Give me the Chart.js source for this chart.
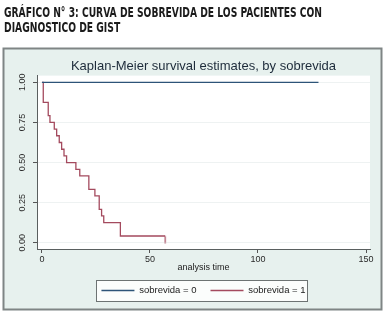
<!DOCTYPE html>
<html>
<head>
<meta charset="utf-8">
<script src="https://cdn.jsdelivr.net/npm/chart.js@4/dist/chart.umd.min.js"></script>
<style>
  html, body { margin: 0; padding: 0; background: #fff; }
  #wrap { position: relative; width: 389px; height: 315px; overflow: hidden; }
  #km { position: absolute; left: 0; top: 0; }
  #heading {
    position: absolute; left: 4px; top: 4.7px;
    font-family: "Liberation Sans Narrow", "DejaVu Sans Condensed", sans-serif;
    font-weight: bold; font-size: 14px; line-height: 15.4px; color: #1b1b1b;
    white-space: nowrap; transform-origin: 0 0;
  }
</style>
</head>
<body>
<div id="wrap">
  <canvas id="km" width="389" height="315"></canvas>
  <div id="heading"><span id="h1">GRÁFICO N° 3: CURVA DE SOBREVIDA DE LOS PACIENTES CON</span><br>DIAGNOSTICO DE GIST</div>
</div>
<script>
// Kaplan-Meier estimates
const timesGroup0 = [0, 128];
const survGroup0 = [1, 1];
const timesGroup1 = [0, 0.6, 2.9, 3.7, 5.7, 6.8, 8, 9.1, 10.2, 11.4, 15.7, 17.5, 21.7, 24.5, 26.5, 27.6, 28.6, 36.3, 57];
const survGroup1 = [1, 0.875, 0.792, 0.75, 0.708, 0.667, 0.625, 0.583, 0.542, 0.5, 0.458, 0.417, 0.333, 0.292, 0.208, 0.167, 0.125, 0.042, 0.042];
const seriesLabels = ["sobrevida = 0", "sobrevida = 1"];
const xTicks = [0, 50, 100, 150];
const yTicks = [0, 0.25, 0.5, 0.75, 1];

const BLUE = "#2d5478";
const RED = "#a44a5e";
const FONT = "Liberation Sans, Arial, sans-serif";

// squeeze the condensed heading to the width of the original
const h1 = document.getElementById("h1");
const heading = document.getElementById("heading");
heading.style.transform = "scaleX(" + (318 / h1.offsetWidth) + ")";

// censor mark at the end of the curve: short tick below the line
const censor = document.createElement("canvas");
censor.width = 3;
censor.height = 15;
const cc = censor.getContext("2d");
cc.strokeStyle = RED;
cc.lineWidth = 1.2;
cc.beginPath();
cc.moveTo(1.5, 7.5);
cc.lineTo(1.5, 14.5);
cc.stroke();

const framePlugin = {
  id: "frame",
  beforeDraw(chart) {
    const { ctx, chartArea: a } = chart;
    ctx.save();
    ctx.fillStyle = "#e7f1ee";
    ctx.fillRect(4, 49, 377, 260);
    ctx.strokeStyle = "#7f8585";
    ctx.lineWidth = 2;
    ctx.strokeRect(3.5, 48.5, 378, 261);
    ctx.fillStyle = "#fff";
    ctx.fillRect(a.left, a.top, a.width, a.height);
    // legend box
    const hb = chart.legend.legendHitBoxes;
    if (hb && hb.length) {
      const l = hb[0].left - 5;
      const r = hb[hb.length - 1].left + hb[hb.length - 1].width + 2;
      const t = hb[0].top - 5.5;
      const b = hb[0].top + hb[0].height + 6;
      ctx.fillStyle = "#fbfdfc";
      ctx.fillRect(l, t, r - l, b - t);
      ctx.strokeStyle = "#6d7373";
      ctx.lineWidth = 1;
      ctx.strokeRect(Math.round(l) + 0.5, Math.round(t) + 0.5, Math.round(r - l), Math.round(b - t));
    }
    ctx.restore();
  }
};

new Chart(document.getElementById("km"), {
  type: "line",
  data: {
    datasets: [
      {
        label: seriesLabels[0],
        data: timesGroup0.map((t, i) => ({ x: t, y: survGroup0[i] })),
        borderColor: BLUE,
        borderWidth: 1.3,
        stepped: true,
        pointRadius: 0,
      },
      {
        label: seriesLabels[1],
        data: timesGroup1.map((t, i) => ({ x: t, y: survGroup1[i] })),
        borderColor: RED,
        borderWidth: 1.3,
        stepped: true,
        pointStyle: censor,
        pointRadius: (c) => (c.dataIndex === timesGroup1.length - 1 ? 4 : 0),
        pointHoverRadius: 0,
      },
    ],
  },
  plugins: [framePlugin],
  options: {
    responsive: false,
    animation: false,
    layout: { padding: { top: 50, left: 7, right: 19, bottom: 9.75 } },
    plugins: {
      tooltip: { enabled: false },
      title: {
        display: true,
        fullSize: false,
        text: "Kaplan-Meier survival estimates, by sobrevida",
        color: "#1d2b3a",
        font: { family: FONT, size: 13, weight: "normal" },
        padding: { top: 8.7, bottom: 1.3 },
      },
      legend: {
        position: "bottom",
        fullSize: false,
        labels: {
          usePointStyle: true,
          pointStyle: "line",
          pointStyleWidth: 33,
          boxWidth: 33,
          padding: 14,
          color: "#222",
          font: { family: FONT, size: 9.5 },
        },
      },
    },
    scales: {
      x: {
        type: "linear",
        min: -2.3,
        max: 151.85,
        afterBuildTicks: (s) => { s.ticks = xTicks.map((v) => ({ value: v })); },
        afterFit: (s) => { s.height = 22.75; s.paddingLeft = 0; s.paddingRight = 0; },
        grid: { drawOnChartArea: false, tickLength: 4, tickColor: "#555", tickWidth: 1 },
        border: { color: "#5a5f5f", width: 1 },
        ticks: {
          padding: 1,
          color: "#2a2a2a",
          font: { family: FONT, size: 9 },
          callback: (v) => String(v),
        },
        title: {
          display: true,
          text: "analysis time",
          color: "#222",
          font: { family: FONT, size: 9, lineHeight: 0.8 },
          padding: { top: 0, bottom: 0.15 },
        },
      },
      y: {
        type: "linear",
        min: -0.039,
        max: 1.042,
        afterBuildTicks: (s) => { s.ticks = yTicks.map((v) => ({ value: v })); },
        afterFit: (s) => { s.width = 30; },
        grid: { color: "#eef2f2", tickLength: 4, tickColor: "#555", tickWidth: 1 },
        border: { color: "#5a5f5f", width: 1 },
        ticks: {
          minRotation: 90,
          maxRotation: 90,
          crossAlign: "center",
          padding: 1.5,
          color: "#2a2a2a",
          font: { family: FONT, size: 9 },
          callback: (v) => v.toFixed(2),
        },
      },
    },
  },
});
</script>
</body>
</html>
